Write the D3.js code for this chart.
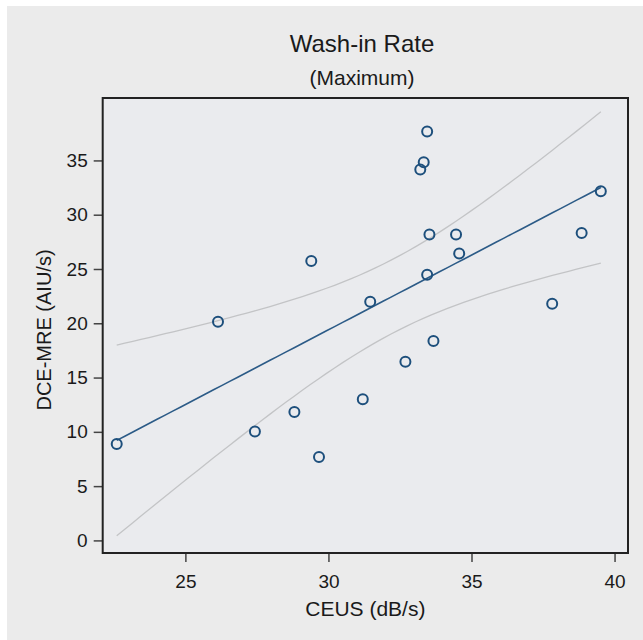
<!DOCTYPE html>
<html>
<head>
<meta charset="utf-8">
<script src="https://cdn.jsdelivr.net/npm/d3@7"></script>
<style>
  html, body { margin: 0; padding: 0; background: #ffffff; }
  svg { display: block; font-family: "Liberation Sans", Arial, sans-serif; }
</style>
</head>
<body>
<svg id="chart" width="643" height="640"></svg>
<script>
// DATA
const ceus = [22.60, 26.14, 27.43, 28.81, 29.40, 29.67, 31.20, 31.46, 32.69, 33.21,
              33.33, 33.45, 33.53, 33.45, 33.67, 34.46, 34.57, 37.82, 38.85, 39.52];
const dceMre = [8.88, 20.14, 10.04, 11.82, 25.73, 7.68, 13.00, 21.98, 16.45, 34.16,
                34.84, 37.66, 28.18, 24.47, 18.36, 28.18, 26.43, 21.80, 28.31, 32.17];
const xTicks = [25, 30, 35, 40];
const yTicks = [0, 5, 10, 15, 20, 25, 30, 35];
const xDomain = [22.11, 40.47];
const yDomain = [-1.16, 40.75];

const points = ceus.map((x, i) => ({x: x, y: dceMre[i]}));

// linear fit with 95% confidence band for the mean
const n = points.length;
const mx = d3.mean(ceus), my = d3.mean(dceMre);
const sxx = d3.sum(ceus, x => (x - mx) * (x - mx));
const sxy = d3.sum(points, d => (d.x - mx) * (d.y - my));
const slope = sxy / sxx;
const intercept = my - slope * mx;
const sse = d3.sum(points, d => Math.pow(d.y - (intercept + slope * d.x), 2));
const se = Math.sqrt(sse / (n - 2));
const tCrit = 2.101;
const xMin = d3.min(ceus), xMax = d3.max(ceus);
const band = d3.range(0, 61).map(i => {
    const x = xMin + (xMax - xMin) * i / 60;
    const fit = intercept + slope * x;
    const h = tCrit * se * Math.sqrt(1 / n + (x - mx) * (x - mx) / sxx);
    return {x: x, fit: fit, lo: fit - h, hi: fit + h};
});

const plotLeft = 102.7, plotRight = 628, plotTop = 98, plotBottom = 553;

const svg = d3.select("#chart");

// panel background
svg.append("rect")
    .attr("x", 7).attr("y", 6)
    .attr("width", 643 - 7).attr("height", 640 - 6)
    .attr("fill", "#ebebeb");

svg.append("rect")
    .attr("x", plotLeft).attr("y", plotTop)
    .attr("width", plotRight - plotLeft).attr("height", plotBottom - plotTop)
    .attr("fill", "#eaebee");

const x = d3.scaleLinear().domain(xDomain).range([plotLeft, plotRight]);
const y = d3.scaleLinear().domain(yDomain).range([plotBottom, plotTop]);

//AXES
const xAxis = svg.append("g")
    .attr("transform", "translate(0," + plotBottom + ")")
    .call(d3.axisBottom(x).tickValues(xTicks).tickSize(9).tickPadding(11).tickFormat(d3.format("d")));

const yAxis = svg.append("g")
    .attr("transform", "translate(" + plotLeft + ",0)")
    .call(d3.axisLeft(y).tickValues(yTicks).tickSize(9).tickPadding(6).tickFormat(d3.format("d")));

[xAxis, yAxis].forEach(g => {
    g.select(".domain").remove();
    g.selectAll(".tick line").attr("stroke", "#444").attr("stroke-width", 1.5);
    g.selectAll(".tick text")
        .attr("fill", "#1a1a1a")
        .attr("font-size", 19)
        .attr("font-family", "Liberation Sans, Arial, sans-serif");
});
xAxis.selectAll(".tick text").attr("dy", "0.78em");

//CONFIDENCE BAND
const bandLine = key => d3.line().x(d => x(d.x)).y(d => y(d[key]));

svg.append("path")
    .datum(band)
    .attr("d", bandLine("hi"))
    .attr("fill", "none")
    .attr("stroke", "#c3c4c6")
    .attr("stroke-width", 1.3);

svg.append("path")
    .datum(band)
    .attr("d", bandLine("lo"))
    .attr("fill", "none")
    .attr("stroke", "#c3c4c6")
    .attr("stroke-width", 1.3);

//FIT LINE
svg.append("path")
    .datum(band)
    .attr("d", bandLine("fit"))
    .attr("fill", "none")
    .attr("stroke", "#2c5b87")
    .attr("stroke-width", 1.6);

//POINTS
svg.append("g").selectAll("circle")
    .data(points)
    .enter()
    .append("circle")
    .attr("cx", d => x(d.x))
    .attr("cy", d => y(d.y))
    .attr("r", 5)
    .attr("fill", "none")
    .attr("stroke", "#1d4f7c")
    .attr("stroke-width", 2);

// frame
svg.append("rect")
    .attr("x", plotLeft).attr("y", plotTop)
    .attr("width", plotRight - plotLeft).attr("height", plotBottom - plotTop)
    .attr("fill", "none")
    .attr("stroke", "#222")
    .attr("stroke-width", 2);

//TITLES
svg.append("text")
    .attr("x", 362).attr("y", 52)
    .attr("text-anchor", "middle")
    .attr("font-size", 24)
    .attr("fill", "#1a1a1a")
    .text("Wash-in Rate");

svg.append("text")
    .attr("x", 362).attr("y", 85)
    .attr("text-anchor", "middle")
    .attr("font-size", 21)
    .attr("fill", "#1a1a1a")
    .text("(Maximum)");

svg.append("text")
    .attr("x", (plotLeft + plotRight) / 2).attr("y", 616)
    .attr("text-anchor", "middle")
    .attr("font-size", 21)
    .attr("fill", "#1a1a1a")
    .text("CEUS (dB/s)");

svg.append("text")
    .attr("transform", "translate(51,330) rotate(-90)")
    .attr("text-anchor", "middle")
    .attr("font-size", 20)
    .attr("fill", "#1a1a1a")
    .text("DCE-MRE (AIU/s)");
</script>
</body>
</html>
